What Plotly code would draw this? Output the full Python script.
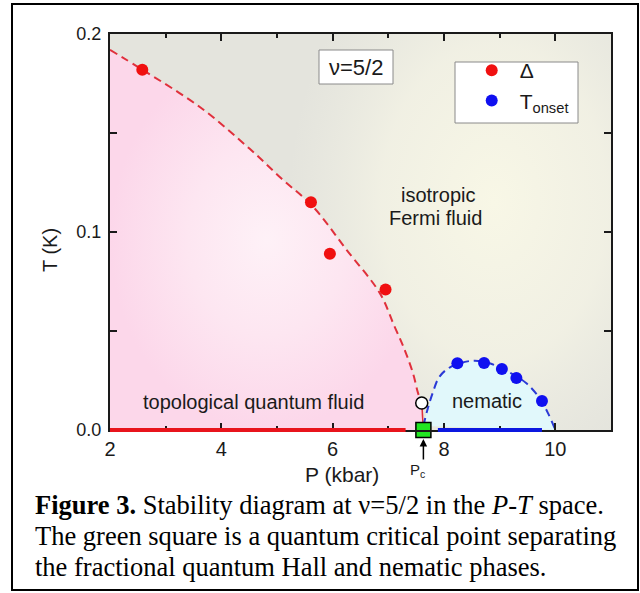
import plotly.graph_objects as go

# ---- data ---------------------------------------------------------------
# gap Delta (red points)
delta_P = [2.58, 5.61, 5.95, 6.95]
delta_T = [0.182, 0.115, 0.089, 0.071]

# nematic onset temperature (blue points)
onset_P = [8.24, 8.72, 9.04, 9.30, 9.76]
onset_T = [0.0337, 0.0338, 0.0308, 0.0263, 0.0146]

# FQH phase boundary (red dashed guide)
fqh_P = [2.0, 2.58, 3.62, 4.51, 5.08, 5.64, 6.25, 6.85, 7.10, 7.30, 7.45, 7.53, 7.60]
fqh_T = [0.192, 0.182, 0.163, 0.142, 0.127, 0.113, 0.091, 0.069, 0.053, 0.040, 0.028, 0.019, 0.0136]

# nematic dome (blue dashed guide)
nem_P = [7.63, 7.70, 7.80, 7.92, 8.13, 8.52, 8.82, 9.18, 9.48, 9.72, 9.87, 10.0]
nem_T = [0.002, 0.010, 0.019, 0.027, 0.032, 0.035, 0.0337, 0.029, 0.0236, 0.016, 0.0084, 0.0]

# T = 0 ground states
fqh_ground_P = [2.0, 7.31]
nem_ground_P = [7.89, 9.76]

# critical points
Pc = 7.63
open_P, open_T = 7.60, 0.0136

x_ticks = [2, 4, 6, 8, 10]
y_ticks = [0.0, 0.1, 0.2]
y_ticklabels = ["0.0", "0.1", "0.2"]

# ---- geometry helpers (pixel -> paper) ------------------------------------
W, H = 640, 593
L, R, T, B = 110, 29, 34, 163
PW, PH = W - L - R, H - T - B


def xp(px):
    return (px - L) / PW


def yp(py):
    return (H - B - py) / PH


SANS = "Liberation Sans, Arial, sans-serif"
SERIF = "Liberation Serif, Times New Roman, serif"

fig = go.Figure()

# warm glow in the isotropic region
fig.add_trace(go.Scatter(
    x=[5.2, 12.6, 12.6, 5.2, 5.2], y=[-0.03, -0.03, 0.26, 0.26, -0.03],
    mode="none", fill="toself",
    fillgradient=dict(type="radial",
                      colorscale=[[0, "rgba(248,247,230,1)"], [0.55, "rgba(246,245,230,0.7)"],
                                  [1, "rgba(240,240,228,0)"]]),
    showlegend=False, hoverinfo="skip"))

# topological quantum fluid region
fig.add_trace(go.Scatter(
    x=fqh_P + [Pc, 2.0], y=fqh_T + [0.0, 0.0],
    mode="none", fill="toself",
    fillgradient=dict(type="radial",
                      colorscale=[[0, "#fef1f7"], [0.5, "#fde6f1"], [1, "#fcd7ea"]]),
    showlegend=False, hoverinfo="skip"))

# nematic region
fig.add_trace(go.Scatter(
    x=nem_P, y=nem_T, mode="none", fill="toself", fillcolor="#e1f8fb",
    showlegend=False, hoverinfo="skip"))

# dashed boundaries
fig.add_trace(go.Scatter(
    x=fqh_P, y=fqh_T, mode="lines", line=dict(color="#e0303c", width=2, dash="8px,5px", shape="spline"),
    showlegend=False, hoverinfo="skip"))
fig.add_trace(go.Scatter(
    x=[open_P, Pc], y=[open_T, 0.0], mode="lines", line=dict(color="#e0303c", width=1.5),
    showlegend=False, hoverinfo="skip"))
fig.add_trace(go.Scatter(
    x=nem_P, y=nem_T, mode="lines", line=dict(color="#2a3ad6", width=2, dash="8px,5px", shape="spline"),
    showlegend=False, hoverinfo="skip"))

# data
fig.add_trace(go.Scatter(
    x=delta_P, y=delta_T, mode="markers", name="Δ",
    marker=dict(color="#f01010", size=12, line=dict(width=0))))
fig.add_trace(go.Scatter(
    x=onset_P, y=onset_T, mode="markers", name="T<sub>onset</sub>",
    marker=dict(color="#1010f0", size=12, line=dict(width=0))))

# open circle and quantum critical point
fig.add_trace(go.Scatter(
    x=[open_P], y=[open_T], mode="markers",
    marker=dict(symbol="circle", color="white", size=12, line=dict(color="black", width=1.5)),
    showlegend=False, hoverinfo="skip", cliponaxis=False))
fig.add_trace(go.Scatter(
    x=[Pc], y=[0.0], mode="markers",
    marker=dict(symbol="square", color="#22e622", size=15, line=dict(color="black", width=1.5)),
    showlegend=False, hoverinfo="skip", cliponaxis=False))

shapes = [
    # T = 0 ground-state lines, drawn over the axis line (y in paper units: T = 0 is the bottom edge)
    dict(type="line", xref="x", yref="paper", x0=fqh_ground_P[0], x1=fqh_ground_P[1], y0=0, y1=0,
         line=dict(color="#e8141c", width=4), layer="above"),
    dict(type="line", xref="x", yref="paper", x0=nem_ground_P[0], x1=nem_ground_P[1], y0=0, y1=0,
         line=dict(color="#0c18e0", width=4), layer="above"),
    # outer frame
    dict(type="rect", xref="paper", yref="paper", x0=xp(12), x1=xp(638), y0=yp(590), y1=yp(4),
         line=dict(color="black", width=2), fillcolor="rgba(0,0,0,0)", layer="above"),
    # nu box
    dict(type="rect", xref="paper", yref="paper", x0=xp(319), x1=xp(393), y0=yp(84), y1=yp(50),
         line=dict(color="#8a8a8a", width=1), fillcolor="white", layer="above"),
    # legend box
    dict(type="rect", xref="paper", yref="paper", x0=xp(455), x1=xp(578), y0=yp(123), y1=yp(62),
         line=dict(color="#8a8a8a", width=1), fillcolor="white", layer="above"),
]


def label(text, x, y, size, family=SANS, color="#1a1a1a", xanchor="center", **kw):
    return dict(text=text, xref="paper", yref="paper", x=xp(x), y=yp(y), showarrow=False,
                xanchor=xanchor, yanchor="middle",
                font=dict(family=family, size=size, color=color), **kw)


annotations = [
    label("ν=5/2", 356, 67, 22),
    label("isotropic", 438, 195, 20),
    label("Fermi fluid", 435, 218, 20),
    label("topological quantum fluid", 253, 402, 20),
    label("nematic", 487, 401, 20),
    label("T (K)", 50, 250, 20, textangle=-90),
    label("P (kbar)", 342, 474, 21),
    label("P<sub>c</sub>", 417, 470, 15),
    # arrow marking Pc
    dict(text="", x=Pc, y=yp(439), xref="x", yref="paper", ax=0, ay=22,
         showarrow=True, arrowhead=2, arrowsize=1, arrowwidth=1.5, arrowcolor="black"),
    # caption
    label("<b>Figure 3.</b> Stability diagram at ν=5/2 in the <i>P</i>-<i>T</i> space.", 33, 505, 26.5,
          family=SERIF, color="black", xanchor="left"),
    label("The green square is a quantum critical point separating", 33, 536, 26.5,
          family=SERIF, color="black", xanchor="left"),
    label("the fractional quantum Hall and nematic phases.", 33, 567, 26.5,
          family=SERIF, color="black", xanchor="left"),
]

axis_common = dict(showline=True, linecolor="#1a1a1a", linewidth=2, mirror="ticks",
                   ticks="inside", tickcolor="#1a1a1a", tickwidth=1.5, ticklen=7,
                   showgrid=False, zeroline=False, automargin=False)

fig.update_layout(
    width=W, height=H, autosize=False,
    margin=dict(l=L, r=R, t=T, b=B, pad=0),
    paper_bgcolor="white", plot_bgcolor="#e4e4dd",
    font=dict(family=SANS, color="#1a1a1a"),
    xaxis=dict(range=[2, 11], tickvals=x_ticks, tickfont=dict(size=20, family=SANS),
               minor=dict(dtick=1, ticks="inside", ticklen=4, tickwidth=1.5, tickcolor="#1a1a1a"),
               ticklabelstandoff=0, **axis_common),
    yaxis=dict(range=[0, 0.2], tickvals=y_ticks, ticktext=y_ticklabels,
               tickfont=dict(size=18, family=SANS),
               minor=dict(dtick=0.05, ticks="inside", ticklen=7, tickwidth=1.5, tickcolor="#1a1a1a"),
               ticklabelstandoff=3, **axis_common),
    legend=dict(x=xp(463.7), y=yp(50), xanchor="left", yanchor="top", bgcolor="rgba(0,0,0,0)",
                borderwidth=0, itemwidth=46, font=dict(size=21, family=SANS, color="#1a1a1a"),
                tracegroupgap=0),
    shapes=shapes, annotations=annotations,
)

fig.write_html("out.html")
